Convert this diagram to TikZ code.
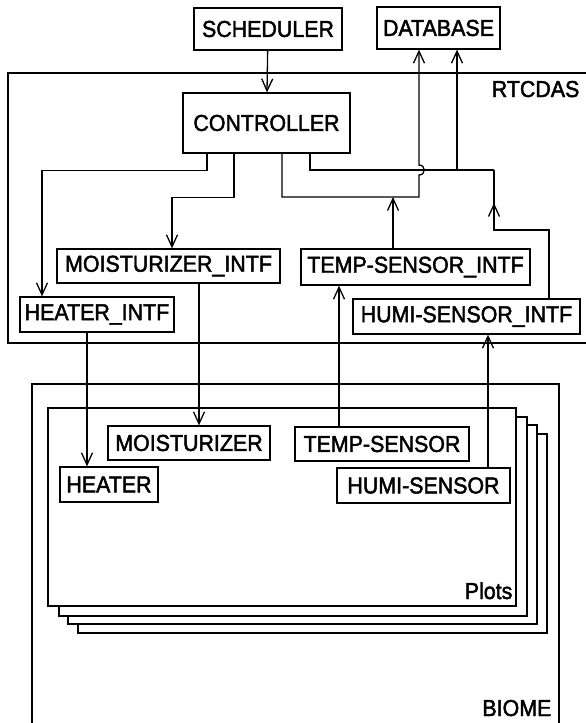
\documentclass[tikz,border=0pt]{standalone}
\usepackage{fontspec}
\setmainfont{Liberation Sans}[FakeStretch=0.93,BoldFont=Liberation Sans,BoldFeatures={FakeBold=2}]
\usetikzlibrary{arrows.meta}
\begin{document}
\begin{tikzpicture}[x=1pt,y=-1pt,
  line width=1.3pt,
  every node/.style={font=\fontsize{23}{26}\selectfont\bfseries},
  box/.style={draw,inner sep=0pt,align=center},
  sheet/.style={draw,fill=white},
  frame/.style={draw},
  arr/.style={-{Straight Barb[length=12pt,width=11pt,line width=1.3pt]}},
  lbl/.style={anchor=base east,inner sep=0pt}]
\useasboundingbox (0,0) rectangle (586,723);
% RTCDAS frame (open to the right)
\draw[frame] (586,73) -- (8,73) -- (8,343) -- (586,343);
\node[lbl] (rtcdas) at (580,97) {RTCDAS};
% BIOME frame (open at the bottom)
\draw[frame] (32,723) -- (32,384) -- (559,384) -- (559,723);
\node[lbl] (biome) at (552,716) {BIOME};
% Plots stack
\draw[sheet] (78,434) rectangle (547,633);
\draw[sheet] (68,425) rectangle (537,624);
\draw[sheet] (59,417) rectangle (527,616);
\draw[sheet] (48,408) rectangle (516,606);
\node[lbl] (plots) at (513,599) {Plots};
% boxes
\node[box,minimum width=148pt,minimum height=42pt] (sched) at (268,29) {SCHEDULER};
\node[box,minimum width=123pt,minimum height=42pt] (db) at (438.5,28) {DATABASE};
\node[box,minimum width=167pt,minimum height=60pt] (ctrl) at (266.5,123) {CONTROLLER};
\node[box,minimum width=223pt,minimum height=34pt] (mintf) at (168.5,266) {MOISTURIZER\_INTF};
\node[box,minimum width=229pt,minimum height=36pt] (tintf) at (415.5,267) {TEMP-SENSOR\_INTF};
\node[box,minimum width=154pt,minimum height=35pt] (hintf) at (97,314.5) {HEATER\_INTF};
\node[box,minimum width=227pt,minimum height=35pt] (huintf) at (466.5,316.5) {HUMI-SENSOR\_INTF};
\node[box,minimum width=162pt,minimum height=34pt] (moist) at (189,443) {MOISTURIZER};
\node[box,minimum width=174pt,minimum height=34pt] (temp) at (382,444) {TEMP-SENSOR};
\node[box,minimum width=98pt,minimum height=35pt] (heater) at (109,484.5) {HEATER};
\node[box,minimum width=173pt,minimum height=35pt] (humi) at (423.5,485.5) {HUMI-SENSOR};
% junctions
\coordinate (jA) at (419,197);
\coordinate (jT) at (393,197);
\coordinate (jB) at (494,170);
\coordinate (jC) at (457,170);
\coordinate (jH) at (494,230);
\coordinate (jHa) at (494,203);
% connectors
\draw[arr] (sched) -- (ctrl);
\draw[arr] ([xshift=-59.5pt]ctrl.south) -- ++(0,17) -| ([xshift=-55pt]hintf.north);
\draw[arr] ([xshift=-32.5pt]ctrl.south) -- ++(0,44) -| ([xshift=3.5pt]mintf.north);
\draw[arr] ([xshift=15.5pt]ctrl.south) |- (jA) -- ++(0,-22)
   .. controls +(7,0) and +(7,0) .. ++(0,-10) -- ([xshift=-19.5pt]db.south);
\draw ([xshift=43.5pt]ctrl.south) |- (jB);
\draw[arr] (jC) -- ([xshift=18.5pt]db.south);
\draw[arr] ([xshift=-22.5pt]tintf.north) -- (jT);
\draw ([xshift=82.5pt]huintf.north) |- (jH) -- (jB);
\draw[arr] (jH) -- (jHa);
\draw[arr] ([xshift=-10pt]hintf.south) -- ([xshift=-22pt]heater.north);
\draw[arr] ([xshift=30.5pt]mintf.south) -- ([xshift=10pt]moist.north);
\draw[arr] ([xshift=-43pt]temp.north) -- ([xshift=-76.5pt]tintf.south);
\draw[arr] ([xshift=64.5pt]humi.north) -- ([xshift=21.5pt]huintf.south);
\end{tikzpicture}
\end{document}
